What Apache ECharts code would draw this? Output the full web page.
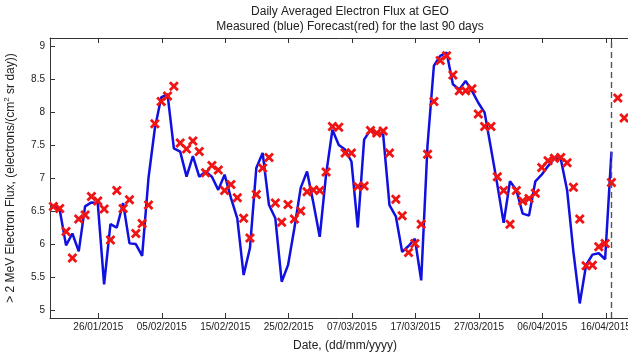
<!DOCTYPE html>
<html><head><meta charset="utf-8">
<script src="https://cdn.jsdelivr.net/npm/echarts@6/dist/echarts.min.js"></script>
<style>html,body{margin:0;padding:0;background:#fff}#c{width:628px;height:352px}</style>
</head><body><div id="c"></div>
<script>
// x values are days relative to 26/01/2015
const firstDay = -7.1;
const measured = [6.58,6.52,5.98,6.16,5.89,6.57,6.63,6.62,5.39,6.30,6.25,6.62,6.01,6.00,5.82,7.00,7.75,8.22,8.27,7.45,
  7.40,7.02,7.33,7.02,7.10,7.02,6.82,7.05,6.70,6.39,5.53,5.94,7.15,7.38,6.59,6.39,5.43,5.68,6.24,6.85,
  7.10,6.62,6.11,7.05,7.73,7.50,7.43,7.25,6.25,7.58,7.73,7.68,7.66,6.59,6.42,5.88,5.97,6.08,5.45,7.50,
  8.70,8.85,8.90,8.42,8.34,8.47,8.32,8.14,7.99,7.45,6.90,6.32,6.95,6.82,6.46,6.43,6.95,7.05,7.18,7.30,
  7.29,6.82,5.88,5.10,5.68,5.84,5.86,5.77,7.40];
const forecast = [6.57,6.54,6.19,5.79,6.38,6.44,6.72,6.65,6.53,6.06,6.81,6.54,6.67,6.16,6.31,6.59,7.82,8.16,8.24,8.39,
  7.53,7.44,7.56,7.40,7.08,7.19,7.12,6.81,6.90,6.70,6.39,6.09,6.75,7.15,7.31,6.62,6.33,6.60,6.38,6.50,
  6.79,6.82,6.81,7.09,7.78,7.77,7.38,7.38,6.87,6.88,7.72,7.68,7.71,7.38,6.68,6.43,5.87,6.01,6.30,7.36,
  8.16,8.78,8.85,8.56,8.32,8.32,8.35,7.97,7.78,7.78,7.02,6.81,6.30,6.81,6.65,6.69,6.77,7.16,7.26,7.30,
  7.31,7.23,6.86,6.38,5.67,5.68,5.96,6.01,6.93,8.21,7.91];
const tickDays = [0,10,20,30,40,50,60,70,80];
const tickLabels = ['26/01/2015','05/02/2015','15/02/2015','25/02/2015','07/03/2015','17/03/2015','27/03/2015','06/04/2015','16/04/2015'];
const nowDay = 80.9;
const yTicks = [5,5.5,6,6.5,7,7.5,8,8.5,9];
const xMin = -7.63, xMax = 85.4, yMin = 4.88, yMax = 9.12;

const blueData = measured.map((v,i)=>[firstDay+i, v]);
const redData = forecast.map((v,i)=>[firstDay+i, v]);
const crossPath = 'path://M2,0 L5,3 L8,0 L10,2 L7,5 L10,8 L8,10 L5,7 L2,10 L0,8 L3,5 L0,2 Z';
const font = 'Liberation Sans, Arial, sans-serif';
const txt = '#222';

const chart = echarts.init(document.getElementById('c'), null, {renderer:'canvas'});
chart.setOption({
  animation:false,
  backgroundColor:'#fff',
  title:[
    {text:'Daily Averaged Electron Flux at GEO', left:345, top:1, textAlign:'center',
     textStyle:{fontFamily:font, fontSize:12, fontWeight:'normal', color:txt}},
    {text:'Measured (blue) Forecast(red) for the last 90 days', left:345, top:16, textAlign:'center',
     textStyle:{fontFamily:font, fontSize:12, fontWeight:'normal', color:txt}}
  ],
  grid:{left:50, top:38, width:590, height:280, containLabel:false, outerBoundsMode:'none', show:false},
  xAxis:[{
    type:'value', min:xMin, max:xMax, position:'bottom',
    name:'Date, (dd/mm/yyyy)', nameLocation:'middle', nameGap:22,
    nameTextStyle:{fontFamily:font, fontSize:12, color:txt},
    axisLine:{onZero:false, lineStyle:{color:'#333', width:1}},
    axisTick:{inside:true, length:5, lineStyle:{color:'#333'}, customValues: tickDays.concat([nowDay])},
    axisLabel:{fontFamily:font, fontSize:10, color:txt, margin:4, customValues: tickDays,
      formatter:(v)=>{const k=tickDays.indexOf(Math.round(v)); return k>=0?tickLabels[k]:'';}},
    splitLine:{show:false}
  },{
    type:'value', min:xMin, max:xMax, position:'top',
    axisLine:{onZero:false, lineStyle:{color:'#333', width:1}},
    axisTick:{inside:true, length:5, lineStyle:{color:'#333'}, customValues: tickDays.concat([nowDay])},
    axisLabel:{show:false}, splitLine:{show:false}
  }],
  yAxis:{
    type:'value', min:yMin, max:yMax, position:'left',
    name:'> 2 MeV Electron Flux, (electrons/(cm{s|2} sr day))', nameLocation:'middle', nameGap:32, nameRotate:90,
    nameTextStyle:{fontFamily:font, fontSize:12, color:txt, rich:{s:{fontFamily:font, fontSize:8, color:txt, verticalAlign:'top', padding:[0,0,7,0]}}},
    axisLine:{show:true, onZero:false, lineStyle:{color:'#333', width:1}},
    axisTick:{show:true, inside:true, length:5, lineStyle:{color:'#333'}, customValues:yTicks},
    axisLabel:{fontFamily:font, fontSize:10, color:txt, margin:5, customValues:yTicks},
    splitLine:{show:false}
  },
  series:[{
    type:'line', data:blueData, showSymbol:false, symbol:'none',
    lineStyle:{color:'#1010e0', width:2.5}, z:2,
    markLine:{silent:true, symbol:'none', label:{show:false},
      lineStyle:{color:'#555', type:[6,4], width:1.4},
      data:[{xAxis:nowDay}]}
  },{
    type:'scatter', data:redData, symbol:crossPath, symbolSize:10,
    itemStyle:{color:'#f01414', opacity:1}, z:3
  }]
});
</script></body></html>
